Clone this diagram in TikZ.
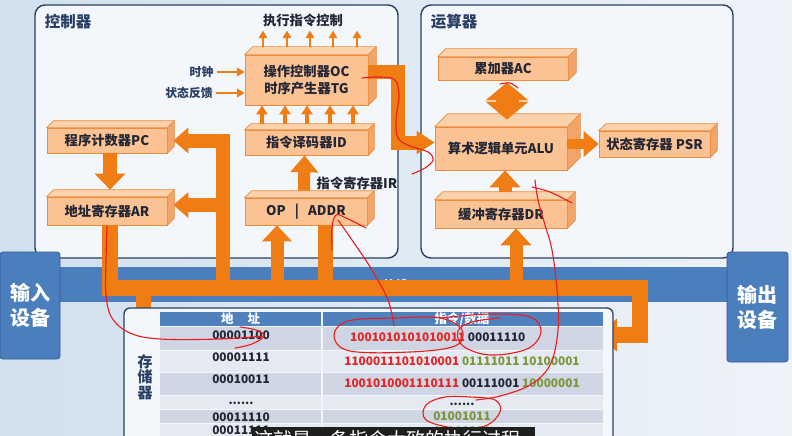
\documentclass[tikz,border=0pt]{standalone}
\usepackage{fontspec}
\setmainfont{Noto Sans CJK SC}
\usetikzlibrary{arrows.meta,calc}

\definecolor{bgA}{RGB}{208,224,237}
\definecolor{bgB}{RGB}{238,243,248}
\definecolor{boxfill}{RGB}{243,247,251}
\definecolor{navy}{RGB}{40,62,100}
\definecolor{ink}{RGB}{34,38,52}
\definecolor{org}{RGB}{240,124,20}
\definecolor{peach}{RGB}{251,195,148}
\definecolor{peachtop}{RGB}{252,210,172}
\definecolor{peachside}{RGB}{242,165,104}
\definecolor{edge}{RGB}{237,140,62}
\definecolor{busblue}{RGB}{74,126,189}
\definecolor{devedge}{RGB}{52,92,148}
\definecolor{rowdark}{RGB}{207,213,226}
\definecolor{rowlight}{RGB}{229,233,241}
\definecolor{hdr}{RGB}{79,129,191}
\definecolor{bitred}{RGB}{226,38,38}
\definecolor{bitgreen}{RGB}{122,150,58}
\definecolor{penred}{RGB}{236,28,28}

\tikzset{
  frame/.style={draw=navy, line width=1.4pt, rounded corners=10pt, fill=boxfill},
  block/.style={draw=edge, line width=0.7pt, fill=peach, inner sep=0pt, text=ink,
    font=\bfseries\fontsize{13.3}{17}\selectfont, align=center},
  title/.style={text=navy, font=\bfseries\fontsize{15.5}{17}\selectfont},
  lbl/.style={text=ink, font=\bfseries\fontsize{13.3}{16}\selectfont},
  small/.style={text=navy, font=\bfseries\fontsize{11.8}{14}\selectfont},
  fat/.style={draw=org, line width=#1, line join=miter},
  fat/.default=15pt,
  thinarr/.style={draw=org, line width=2.4pt, -{Triangle[width=8.5pt,length=7.5pt]}},
  midarr/.style={draw=org, line width=4pt, -{Triangle[width=11pt,length=9pt]}},
  dev/.style={draw=devedge, line width=0.8pt, fill=busblue, rounded corners=3pt,
    text=white, font=\bfseries\fontsize{20}{25}\selectfont, align=center, inner sep=0pt},
  bits/.style={font=\bfseries\fontsize{11.8}{14}\selectfont, inner sep=0pt},
  hdrtext/.style={text=white, font=\bfseries\fontsize{12.5}{14}\selectfont, inner sep=0pt},
  pen/.style={draw=penred, line width=1.1pt, line cap=round, line join=round},
}

% top and right faces of a block seen in perspective
\newcommand\cubefaces[2]{%
  \filldraw[fill=peachtop, draw=edge, line width=0.7pt]
    (#1.north west) -- ++(#2,-#2) -- ([shift={(#2,-#2)}]#1.north east) -- (#1.north east) -- cycle;
  \filldraw[fill=peachside, draw=edge, line width=0.7pt]
    (#1.north east) -- ++(#2,-#2) -- ([shift={(#2,-#2)}]#1.south east) -- (#1.south east) -- cycle;}

\begin{document}
\begin{tikzpicture}[x=1pt,y=-1pt]
\useasboundingbox (0,0) rectangle (792,436);
\clip (0,0) rectangle (792,436);
\shade[left color=bgA, right color=bgB] (0,0) rectangle (792,436);

% unit frames
\draw[frame] (35,5) rectangle (398,258);
\draw[frame] (421,5) rectangle (733,258);
\node[title] (ctl) at (68,22) {控制器};
\node[title] (calc) at (454,22) {运算器};

% controller blocks
\node[block, minimum width=123pt, minimum height=50pt] (oc) at (306.5,80) {操作控制器OC\\时序产生器TG};
\cubefaces{oc}{8}
\node[block, minimum width=123pt, minimum height=25pt] (id) at (306.5,142.5) {指令译码器ID};
\cubefaces{id}{6}
\node[block, minimum width=120pt, minimum height=25pt] (pc) at (107,140.5) {程序计数器PC};
\cubefaces{pc}{7}
\node[block, minimum width=120pt, minimum height=28pt] (ar) at (107,211) {地址寄存器AR};
\cubefaces{ar}{7}
\node[block, minimum width=122pt, minimum height=27pt] (ir) at (306,211.5) {OP~~~|~~~ADDR};
\cubefaces{ir}{7}

% arithmetic unit blocks
\node[block, minimum width=130pt, minimum height=23pt] (ac) at (503,68.5) {累加器AC};
\cubefaces{ac}{8}
\node[block, minimum width=132pt, minimum height=43pt] (alu) at (501,148.5) {算术逻辑单元ALU};
\cubefaces{alu}{13}
\node[block, minimum width=111pt, minimum height=26pt] (psr) at (654.5,144) {状态寄存器 PSR};
\cubefaces{psr}{7}
\node[block, minimum width=132pt, minimum height=28pt] (dr) at (501,214) {缓冲寄存器DR};
\cubefaces{dr}{8}

% labels around the control unit
\node[lbl] (exec) at (303,20) {执行指令控制};
\node[lbl] (irlbl) at (357,183) {指令寄存器IR};
\node[small] (clk) at (201.5,72) {时钟};
\node[small] (fb) at (189,93) {状态反馈};

% control signals
\foreach \dx in {-43.5,-19.5,3.5,26.5,50.5}
  \draw[thinarr] ([xshift=\dx pt, yshift=8pt]oc.north) -- ([xshift=\dx pt, yshift=24pt]oc.north);
\foreach \dx in {-44.5,-21.5,0.5,23.5,46.5}
  \draw[midarr] ([xshift=\dx pt, yshift=6pt]id.north) -- ([xshift=\dx pt]oc.south);
\draw[thinarr] (clk.east) -- (clk.east -| oc.west);
\draw[thinarr] (fb.east) -- (fb.east -| oc.west);

% internal data paths
\draw[fat=12pt, -{Triangle[width=27pt,length=17pt]}] ([xshift=-2pt, yshift=7pt]ir.north) -- ([xshift=-2pt]id.south);
\draw[fat=14pt, -{Triangle[width=30pt,length=16pt]}] ([xshift=3pt]pc.south) -- ([xshift=3pt, yshift=7pt]ar.north);
\draw[fat=23pt, {Triangle[width=42pt,length=18pt]}-{Triangle[width=42pt,length=18pt]}]
  ([xshift=4pt, yshift=-2pt]ac.south) -- ([xshift=6pt, yshift=7pt]alu.north);
\draw[fat=13pt, -{Triangle[width=30pt,length=17pt]}] ([xshift=4pt, yshift=8pt]dr.north) -- ([xshift=4pt]alu.south);
\draw[fat=10pt, -{Triangle[width=25pt,length=15pt]}] (alu.east |- psr.west) -- (psr.west);
\coordinate (aluin) at ([yshift=6pt]alu.west);
\coordinate (jog) at (398,0);
\draw[fat=14pt, -{Triangle[width=22pt,length=18pt]}] ([yshift=8pt]oc.east) -| (aluin -| jog) -- (aluin);

% system bus
\fill[busblue] (60,267) rectangle (727,302);
\node[text=white, font=\bfseries\fontsize{13}{14}\selectfont] (buslbl) at (395,286) {总线};

\coordinate (trunk) at (223,288);
\coordinate (busR) at (640,288);
\coordinate (memR) at (598,335);
\coordinate (memL) at (185,338);
\coordinate (b1) at (277,288);
\coordinate (b2) at (325,288);
\coordinate (b3) at (516,288);

\draw[fat=16pt, -{Triangle[width=32pt,length=19pt]}] ([xshift=3pt]ar.south) |- (busR) |- (memR);
\draw[fat=15pt, -{Triangle[width=25pt,length=18pt]}] (143,288) |- (memL);
\draw[fat=14pt, -{Triangle[width=25pt,length=15pt]}] (trunk) |- ([xshift=6pt]pc.east);
\draw[fat=14pt, -{Triangle[width=25pt,length=15pt]}] (trunk |- ar.east) ++(0,-6) -- ([xshift=6pt, yshift=6pt]ar.east);
\draw[fat=13pt, -{Triangle[width=29pt,length=16pt]}] (b1) -- (b1 |- ir.south);
\draw[fat=15pt] (b2 |- ir.south) -- (b2);
\draw[fat=13pt, -{Triangle[width=30pt,length=17pt]}] (b3) -- (b3 |- dr.south);

% memory
\draw[draw=navy, line width=1.3pt, rounded corners=6pt, fill=boxfill] (124,308) rectangle (613,470);
\node[text=navy, font=\bfseries\fontsize{15}{15.5}\selectfont, align=center] (memlbl) at (145,377) {存\\储\\器};
\fill[hdr] (160,312) rectangle (321,326);
\fill[hdr] (323,312) rectangle (603,326);
\node[hdrtext] (h1) at (240.5,319) {地\hspace{14pt}址};
\node[hdrtext] (h2) at (462,319) {指令/数据};
\foreach \ya/\yb/\c in {327/350/rowdark, 351/372/rowlight, 373/395/rowdark, 396/409/rowlight, 410/423/rowdark, 424/440/rowlight}{
  \fill[\c] (160,\ya) rectangle (321,\yb);
  \fill[\c] (323,\ya) rectangle (603,\yb);
}
\node[bits, text=ink] (a1) at (241,335) {00001100};
\node[bits, text=ink] (a2) at (241,357) {00001111};
\node[bits, text=ink] (a3) at (241,379) {00010011};
\node[bits, text=ink] (a4) at (241,403) {......};
\node[bits, text=ink] (a5) at (241,417) {00011110};
\node[bits, text=ink] (a6) at (241,430.5) {00011111};
\node[bits, anchor=west] (d1) at (350,337) {\color{bitred}1001010101010011 \color{ink}00011110};
\node[bits] (d2) at (462,361) {\color{bitred}1100011101010001 \color{bitgreen}01111011 10100001};
\node[bits] (d3) at (462,383) {\color{bitred}1001010001110111 \color{ink}00111001 \color{bitgreen}10000001};
\node[bits, text=ink] (d4) at (462,404) {......};
\node[bits, text=bitgreen] (d5) at (462,416.5) {01001011};
\node[bits, text=bitgreen] (d6) at (462,431) {10110000};

% input and output devices
\node[dev, minimum width=60pt, minimum height=107pt] (indev) at (30,305.5) {输入\\设备};
\node[dev, minimum width=61pt, minimum height=110pt] (outdev) at (757.5,307) {输出\\设备};

% pen annotations
\draw[pen] plot[smooth, tension=0.6] coordinates {(362,78) (380,77) (395,80) (399,96) (396,120) (398,138) (410,146) (428,152) (433,160) (425,168) (412,174)};
\draw[pen] plot[smooth, tension=0.6] coordinates {(107,226) (106,260) (106,295) (112,318) (130,333) (160,339) (220,339) (264,336)};
\draw[pen] plot[smooth, tension=0.6] coordinates {(240,327) (256,330) (264,336) (252,344) (235,348)};
\draw[pen] plot[smooth, tension=0.6] coordinates {(332,250) (332,228) (336,215) (346,218) (366,228)};
\draw[pen] plot[smooth, tension=0.6] coordinates {(338,220) (352,240) (372,270) (388,300) (394,326)};
\draw[pen] plot[smooth cycle, tension=0.6] coordinates {(395,318) (348,321) (334,336) (350,351) (410,352) (455,346) (462,330) (440,318)};
\draw[pen] plot[smooth, tension=0.6] coordinates {(440,318) (490,314) (530,317) (541,332) (527,349) (490,355) (463,346) (458,331) (472,322) (500,318)};
\draw[pen] plot[smooth, tension=0.6] coordinates {(535,180) (538,200) (545,225) (552,250) (557,290) (558,330) (550,365) (530,385) (500,396) (476,400)};
\draw[pen] plot[smooth, tension=0.6] coordinates {(532,187) (550,192) (572,203)};
\draw[pen] plot[smooth cycle, tension=0.6] coordinates {(470,397) (495,400) (500,412) (485,426) (455,428) (426,420) (426,405) (445,397)};
\draw[pen] plot[smooth, tension=0.6] coordinates {(500,84) (510,83) (518,88)};

% caption strip
\fill[black!88] (252,427) rectangle (535,450);
\node[text=white, anchor=west, font=\fontsize{19}{20}\selectfont, inner sep=0pt] (cap) at (254,439) {这就是一条指令大致的执行过程};
\end{tikzpicture}
\end{document}
